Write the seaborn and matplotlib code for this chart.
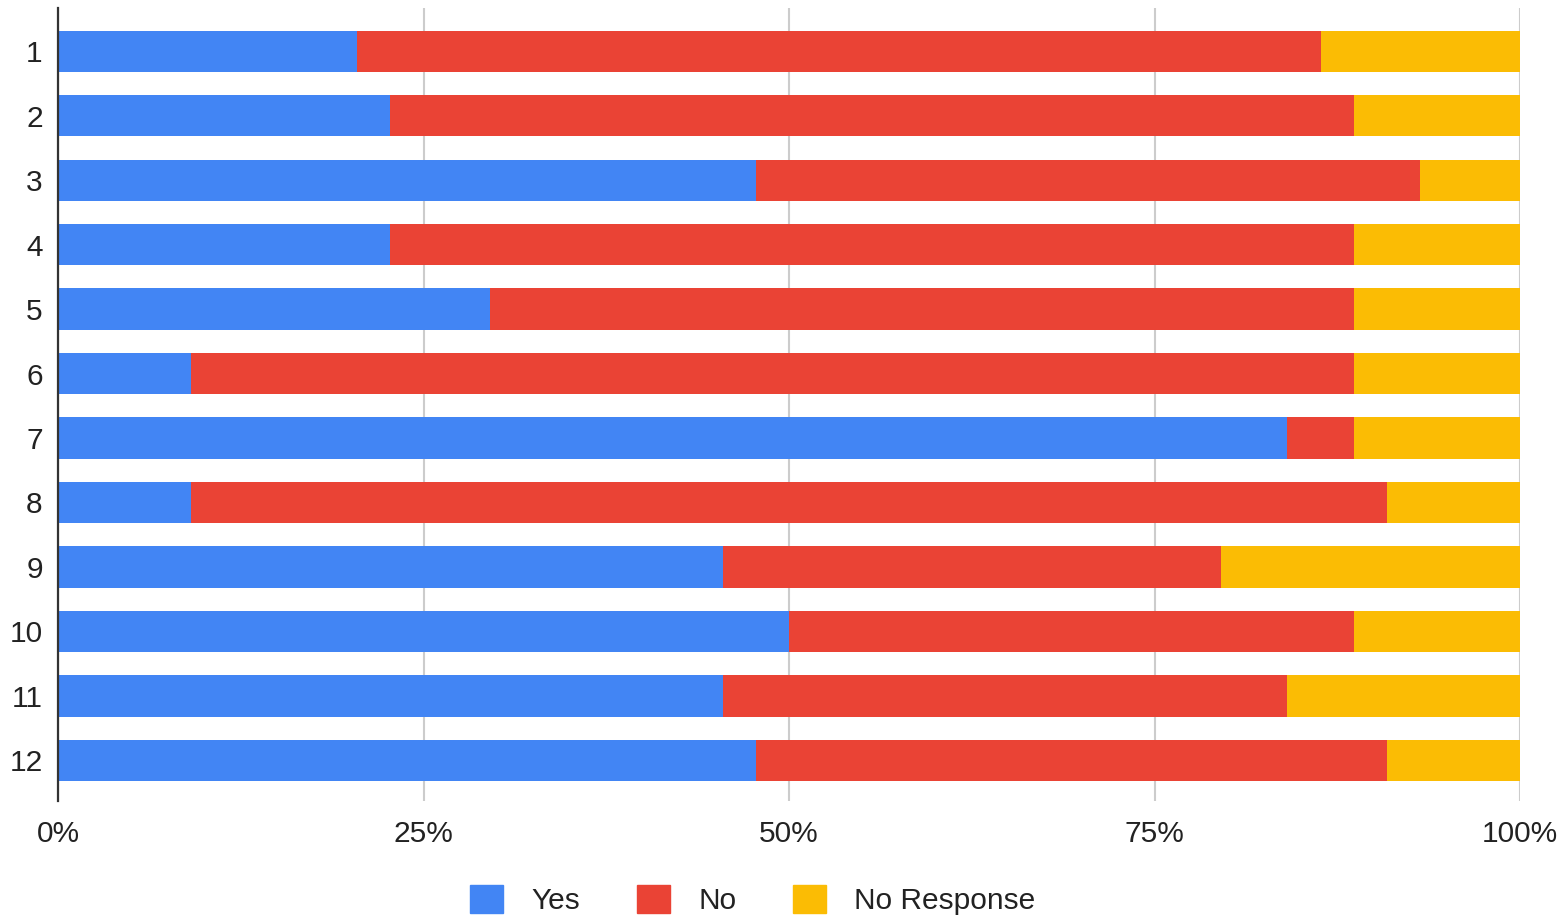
import matplotlib
matplotlib.use("Agg")
import matplotlib.pyplot as plt
from matplotlib.patches import Patch
from matplotlib.ticker import PercentFormatter
import seaborn as sns
import pandas as pd
import numpy as np

categories = ["1", "2", "3", "4", "5", "6", "7", "8", "9", "10", "11", "12"]
yes = [9, 10, 21, 10, 13, 4, 37, 4, 20, 22, 20, 21]
no = [29, 29, 20, 29, 26, 35, 2, 36, 15, 17, 17, 19]
no_response = [6, 5, 3, 5, 5, 5, 5, 4, 9, 5, 7, 4]
series_names = ["Yes", "No", "No Response"]
colors = ["#4285F4", "#EA4335", "#FBBC04"]
x_ticks = [0, 25, 50, 75, 100]

sns.set_style("white")
plt.rcParams["font.family"] = ["Liberation Sans", "DejaVu Sans"]

df = pd.DataFrame({"cat": categories, "Yes": yes, "No": no, "No Response": no_response})
total = df[series_names].sum(axis=1)
pct = df[series_names].div(total, axis=0) * 100
cum = pct.cumsum(axis=1)
cum["cat"] = df["cat"]

fig = plt.figure(figsize=(15.64, 9.19), dpi=100)
ax = fig.add_axes([58 / 1564, 1 - 801 / 919, (1520 - 58) / 1564, (801 - 8) / 919])

for name, col in zip(reversed(series_names), reversed(colors)):
    sns.barplot(data=cum, x=name, y="cat", orient="h", color=col, width=0.64,
                saturation=1, ax=ax, zorder=3, linewidth=0, order=categories)

ax.set_xlim(0, 100)
ax.set_ylim(11.63, -0.67)
ax.set_xticks(x_ticks)
ax.xaxis.set_major_formatter(PercentFormatter(decimals=0))
ax.set_xlabel("")
ax.set_ylabel("")
ax.grid(axis="x", color="#cccccc", linewidth=1.5, zorder=0)
ax.grid(axis="y", visible=False)
for s in ["top", "right", "bottom"]:
    ax.spines[s].set_visible(False)
ax.spines["left"].set_color("#333333")
ax.spines["left"].set_linewidth(1.6)
ax.spines["left"].set_zorder(5)
ax.tick_params(axis="y", length=0, pad=11, labelsize=21.5, labelcolor="#222222")
ax.tick_params(axis="x", length=0, pad=14, labelsize=21.5, labelcolor="#222222")

handles = [Patch(facecolor=c, edgecolor=c, label=n) for n, c in zip(series_names, colors)]
fig.legend(handles=handles, loc="center", bbox_to_anchor=(753 / 1564, 1 - 900 / 919),
           ncol=3, frameon=False, fontsize=21.5, handlelength=1.1, handleheight=1.1,
           handletextpad=0.95, columnspacing=1.9, labelcolor="#222222")

fig.savefig("out.png", dpi=100)
